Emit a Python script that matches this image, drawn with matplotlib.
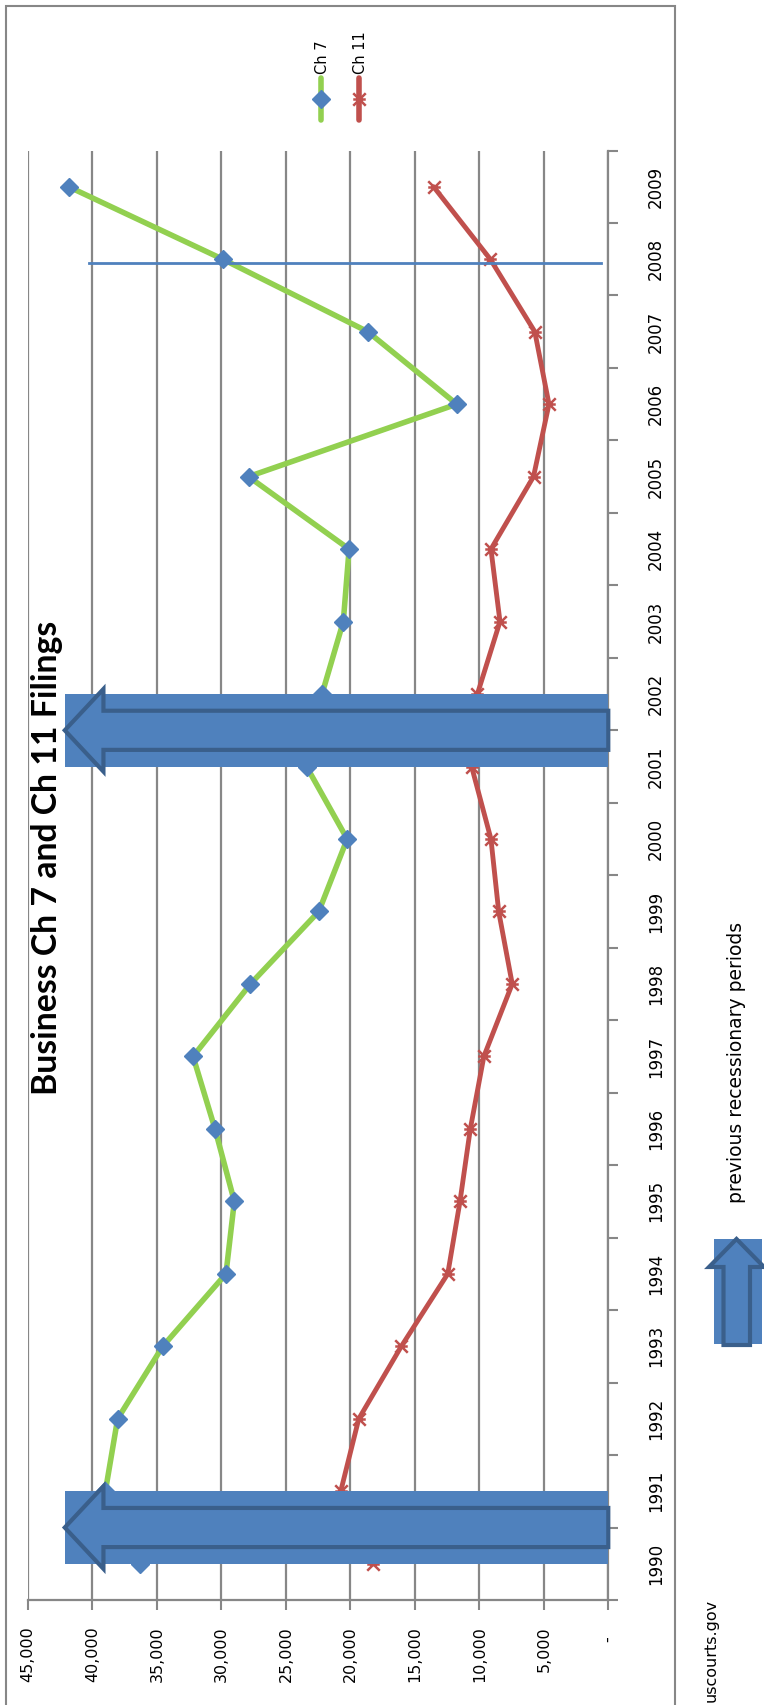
import matplotlib
matplotlib.use('Agg')
import matplotlib.pyplot as plt
from matplotlib.patches import Rectangle, Polygon
from matplotlib.lines import Line2D
from matplotlib.path import Path

# --- data ---
years = list(range(1990, 2010))
ch7 = [36300, 39000, 38050, 34550, 29650, 29000, 30500, 32200, 27750, 22450,
       20250, 23400, 22200, 20550, 20100, 27900, 11750, 18650, 29900, 41850]
ch11 = [18250, 20750, 19350, 16050, 12450, 11500, 10700, 9650, 7450, 8500,
        9100, 10600, 10150, 8400, 9100, 5800, 4600, 5700, 9150, 13550]
value_ticks = [45000, 40000, 35000, 30000, 25000, 20000, 15000, 10000, 5000, 0]
recessions = [(1990, 1991), (2001, 2002)]
marker_year = 2008
marker_span = (40250, 550)

W, H = 764, 1705
GREEN = '#92D050'
RED = '#C0504D'
BLUE = '#4F81BD'
DARK = '#3A5F8B'
GRID = '#878787'


def fx(px):
    return px / W


def fy(py):
    return 1 - py / H


fig = plt.figure(figsize=(W / 100, H / 100), dpi=100)
ax = fig.add_axes([fx(28), fy(1600), fx(608.3) - fx(28), fy(150.5) - fy(1600)])

# excel style asterisk (rotated with the chart)
star = Path([(-1, 0), (1, 0), (-1, -1), (1, 1), (-1, 1), (1, -1)],
            [Path.MOVETO, Path.LINETO, Path.MOVETO, Path.LINETO, Path.MOVETO, Path.LINETO])

ax.plot(ch7, years, color=GREEN, lw=4, marker='D', ms=9, mfc=BLUE, mec=BLUE,
        solid_capstyle='round', zorder=4)
ax.plot(ch11, years, color=RED, lw=3.5, marker=star, ms=9, mec=RED, mew=1.8,
        solid_capstyle='round', zorder=3)

ax.set_xlim(45000, 0)
ax.set_ylim(years[0] - 0.5, years[-1] + 0.5)

ax.set_xticks(value_ticks)
ax.set_xticklabels([f'{v:,}' if v else '-  ' for v in value_ticks], rotation=90)
ax.tick_params(axis='x', length=7, width=1.5, color=GRID, pad=12, labelsize=11.5)
ax.xaxis.grid(True, color=GRID, lw=1.6)
ax.set_axisbelow(True)

ax.yaxis.tick_right()
ax.set_yticks([y - 0.5 for y in years] + [years[-1] + 0.5])
ax.set_yticklabels([])
ax.set_yticks(years, minor=True)
ax.set_yticklabels([str(y) for y in years], minor=True, rotation=90, va='center')
ax.tick_params(axis='y', which='major', length=7, width=1.5, color=GRID, direction='out')
ax.tick_params(axis='y', which='minor', length=0, pad=28, labelsize=12)

for s in ['left', 'top']:
    ax.spines[s].set_visible(False)
for s in ['right', 'bottom']:
    ax.spines[s].set_color(GRID)
    ax.spines[s].set_linewidth(1.6)

# recession blocks with arrows
tip = 42150
head = 3000
for start, end in recessions:
    c = (start + end) / 2
    ax.add_patch(Rectangle((0, start), tip, end - start, facecolor=BLUE,
                           edgecolor='none', zorder=6, clip_on=False))
    pts = [(0, c - 0.27), (tip - head, c - 0.27), (tip - head, c - 0.57), (tip, c),
           (tip - head, c + 0.57), (tip - head, c + 0.27), (0, c + 0.27)]
    ax.add_patch(Polygon(pts, closed=True, facecolor=BLUE, edgecolor=DARK, lw=3,
                         joinstyle='miter', zorder=7, clip_on=False))

ax.plot(list(marker_span), [marker_year - 0.05] * 2, color=BLUE, lw=2, zorder=5)

# title
fig.text(fx(47), fy(858), 'Business Ch 7 and Ch 11 Filings', rotation=90,
         ha='center', va='center', fontsize=24.3, fontweight='bold', family='Lato')

# legend (rotated)
for xpos, col, lab in [(320.7, GREEN, 'Ch 7'), (359.3, RED, 'Ch 11')]:
    fig.add_artist(Line2D([fx(xpos)] * 2, [fy(120), fy(78)], transform=fig.transFigure,
                          color=col, lw=4, solid_capstyle='round'))
    if lab == 'Ch 7':
        mkln = Line2D([fx(xpos)], [fy(99)], transform=fig.transFigure, ls='none',
                      marker='D', ms=9, mfc=BLUE, mec=BLUE)
    else:
        mkln = Line2D([fx(xpos)], [fy(99)], transform=fig.transFigure, ls='none',
                      marker=star, ms=9, mec=RED, mew=1.8)
    fig.add_artist(mkln)
    fig.text(fx(xpos + 1.5), fy(74), lab, rotation=90, ha='center', va='bottom',
             fontsize=10.5)

# outer chart border
fig.add_artist(Rectangle((fx(6), -0.01), fx(675) - fx(6), fy(6) + 0.01,
                         transform=fig.transFigure, fill=False, edgecolor=GRID, lw=1.5))

# recession legend icon
fig.add_artist(Rectangle((fx(714), fy(1344)), fx(762) - fx(714), fy(1239) - fy(1344),
                         transform=fig.transFigure, facecolor=BLUE, edgecolor='none'))
icon = [(723.5, 1345), (723.5, 1267), (709, 1267), (736.5, 1239), (764, 1267),
        (750, 1267), (750, 1345)]
fig.add_artist(Polygon([(fx(a), fy(b)) for a, b in icon], closed=True,
                       transform=fig.transFigure, facecolor=BLUE, edgecolor=DARK,
                       lw=3, joinstyle='miter'))
fig.text(fx(736), fy(1062), 'previous recessionary periods', rotation=90,
         ha='center', va='center', fontsize=13.5)

fig.text(fx(711), fy(1650), 'uscourts.gov', rotation=90, ha='center', va='center',
         fontsize=11.5)

fig.savefig('out.png', dpi=100)
